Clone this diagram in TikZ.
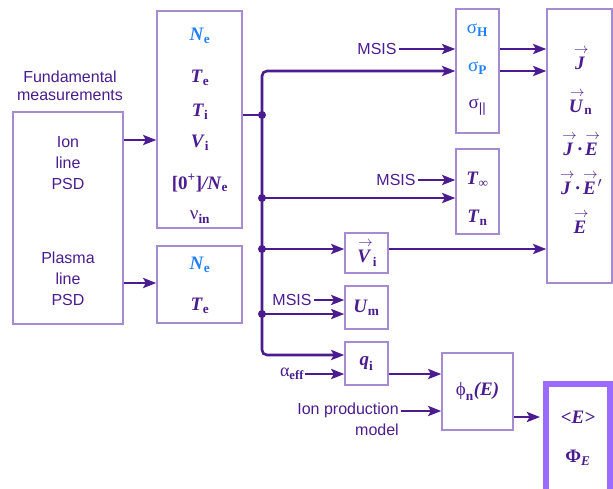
\documentclass[tikz,border=0pt]{standalone}
\usepackage{fontspec}
\usepackage{amsmath}
\setmainfont{Liberation Serif}
\setsansfont{Liberation Sans}
\usepackage{xcolor}
\usepackage{tikz}
\usetikzlibrary{arrows.meta, positioning}

\definecolor{ink}{HTML}{4B1C8F}
\definecolor{frame}{HTML}{A68BD3}
\definecolor{neblue}{HTML}{1F80FF}
\definecolor{hilite}{HTML}{9B6BFF}

\newcommand\qv[2]{$\textbf{\textit{#1}}_{\textbf{#2}}$}
\newcommand\vq[1]{\overset{\,\rightarrow}{\textbf{\textit{#1}}}}

\begin{document}
\begin{tikzpicture}[x=1pt, y=-1pt,
        box/.style={draw=frame, line width=1.5pt, inner sep=0pt},
        var/.style={text=ink, inner sep=1pt, font=\fontsize{19}{22}\selectfont},
        lbl/.style={text=ink, inner sep=2pt, align=center, font=\sffamily\fontsize{16}{21}\selectfont},
        wire/.style={draw=ink, line width=2.6pt},
        flow/.style={wire, -{Stealth[length=13pt, width=10pt, inset=2.5pt]}},
        dot/.style={circle, fill=ink, inner sep=0pt, minimum size=8pt}]
        \useasboundingbox (0,0) rectangle (613,488);
%
        % measurements
        \node[lbl, font=\sffamily\fontsize{16}{18}\selectfont] (fund) at (70,86) {Fundamental\\measurements};
        \node[box, minimum width=110pt, minimum height=212pt] (psd) at (68,218) {};
        \node[lbl] (ion) at (68,163) {Ion\\line\\PSD};
        \node[lbl] (plasma) at (68,279) {Plasma\\line\\PSD};
%
        % fitted parameters
        \node[box, minimum width=85pt, minimum height=217pt] (par1) at (199.5,119.5) {};
        \node[box, minimum width=85pt, minimum height=77pt] (par2) at (199.5,284.5) {};
        \foreach \y/\t in {36/{\color{neblue}\qv{N}{e}}, 78/{\qv{T}{e}}, 112/{\qv{T}{i}},
                143/{\qv{V}{i}}, 183/{$\textbf{[0}^{\textbf{+}}\textbf{]}\textbf{\textit{/N}}_{\textbf{e}}$},
                217/{$\text{ν}_{\textbf{in}}$}}
            \node[var] at (200,\y) {\t};
        \node[var] (ne2) at (200,265) {\color{neblue}\qv{N}{e}};
        \node[var] (te2) at (200,306) {\qv{T}{e}};
%
        % derived quantities
        \node[box, minimum width=43pt, minimum height=124pt] (sig) at (477.5,71) {};
        \node[var] (sigH) at (477.5,30) {\color{neblue}$\text{σ}_{\textbf{H}}$};
        \node[var] (sigP) at (477.5,68) {\color{neblue}$\text{σ}_{\textbf{P}}$};
        \node[var] (sigL) at (477.5,107) {$\text{σ}_{\text{\textsf{||}}}$};
        \node[box, minimum width=43pt, minimum height=85pt] (tn) at (477.5,191.5) {};
        \node[var] (tinf) at (477.5,180) {$\textbf{\textit{T}}_{\text{∞}}$};
        \node[var] (tneu) at (477.5,218) {\qv{T}{n}};
        \node[box, var, inner sep=0pt, minimum width=43pt, minimum height=40pt] (vi) at (366.5,253) {$\vq{V}_{\textbf{i}}$};
        \node[box, var, inner sep=0pt, minimum width=43pt, minimum height=43pt] (um) at (366.5,307.5) {\qv{U}{m}};
        \node[box, var, inner sep=0pt, minimum width=43pt, minimum height=43pt] (qi) at (366.5,363.5) {\qv{q}{i}};
        \node[box, var, inner sep=0pt, minimum width=71pt, minimum height=77pt] (phi) at (477.5,391.5)
            {$\text{ϕ}_{\textbf{n}}\textbf{\textit{(E)}}$};
%
        % outputs
        \node[box, minimum width=65pt, minimum height=274pt] (out) at (579.5,146) {};
        \foreach \y/\t in {58/{$\vq{J}$}, 102/{$\vq{U}_{\textbf{n}}$}, 144/{$\vq{J}\textbf{·}\vq{E}$},
                183/{$\vq{J}\textbf{·}\vq{E}{\vphantom{\textbf{E}}}^{\prime}$}, 222/{$\vq{E}$}}
            \node[var] at (580,\y) {\t};
        \node[box, draw=hilite, line width=6pt, minimum width=64pt, minimum height=111pt] (eng) at (578,439.5) {};
        \node[var] (emean) at (578,417) {\textbf{\textit{<E>}}};
        \node[var] (eflux) at (578,458) {$\textbf{Φ}_{\textbf{\textit{E}}}$};
%
        % outside inputs
        \node[lbl] (ms1) at (377,49) {MSIS};
        \node[lbl] (ms2) at (396,180) {MSIS};
        \node[lbl] (ms3) at (292,300) {MSIS};
        \node[var, font=\fontsize{18}{22}\selectfont] (alpha) at (292,374) {$\text{α}_{\textbf{eff}}$};
        \node[lbl, align=right, anchor=east] (ipm) at (401,419.5) {Ion production\\model};
%
        % bus
        \coordinate (j1) at (262,115);
        \coordinate (j2) at (262,198);
        \coordinate (j3) at (262,249);
        \coordinate (j4) at (262,314);
        \coordinate (qin) at ([yshift=8.5pt]qi.west);
        \coordinate (pin) at ([yshift=-19.5pt]phi.west);
        \coordinate (ein) at ([xshift=-3pt]eng.west);
        \draw[wire] (par1.east |- j1) -- (j1);
        \draw[flow, rounded corners=5pt] (j1) |- (sig.west);
        \draw[flow, rounded corners=5pt] (j1) |- (qin);
        \draw[flow] (j2) -- (j2 -| tn.west);
        \draw[flow] (j3) -- (j3 -| vi.west);
        \draw[flow] (j4) -- (j4 -| um.west);
        \foreach \j in {j1, j2, j3, j4}
            \node[dot] at (\j) {};
%
        \path
        (psd.east |- 0,140) edge[flow] (par1.west |- 0,140)
        (psd.east |- 0,283) edge[flow] (par2.west |- 0,283)
        (ms1) edge[flow] (ms1 -| sig.west)
        (ms2) edge[flow] (ms2 -| tn.west)
        (ms3) edge[flow] (ms3 -| um.west)
        (alpha) edge[flow] (alpha -| qi.west)
        (ipm.east |- pin) edge[flow] (pin)
        (sig.east |- ms1) edge[flow] (out.west |- ms1)
        (sig.east) edge[flow] (out.west |- sig.east)
        (vi.east |- j3) edge[flow] (out.west |- j3)
        (qi.east |- alpha) edge[flow] (phi.west |- alpha)
        (phi.east |- emean) edge[flow] (ein |- emean);
\end{tikzpicture}
\end{document}
